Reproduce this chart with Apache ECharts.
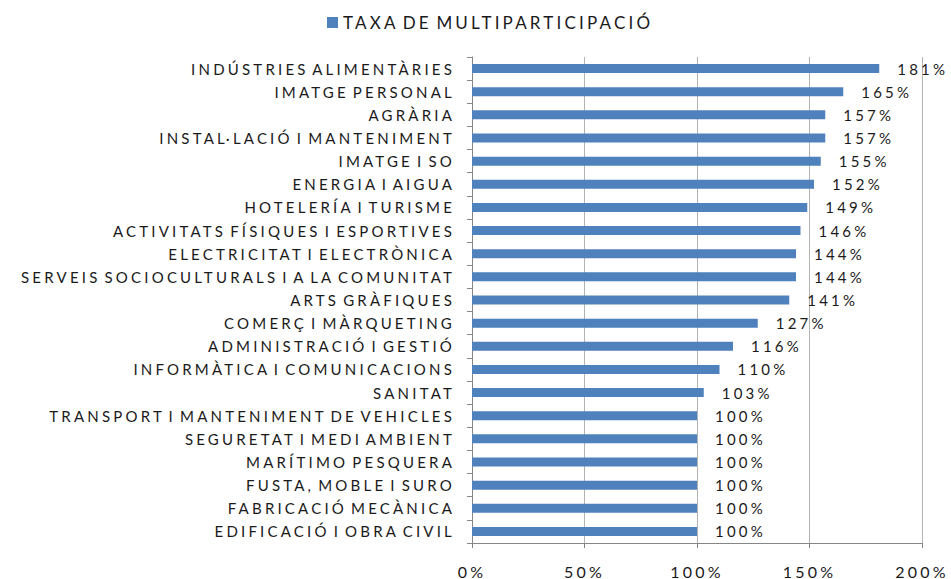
<!DOCTYPE html>
<html>
<head>
<meta charset="utf-8">
<script src="https://cdn.jsdelivr.net/npm/echarts@6/dist/echarts.min.js"></script>
<style>
  html, body { margin: 0; padding: 0; background: #fff; }
  #main { width: 951px; height: 579px; }
  /* the original uses wide tracking with tight word gaps */
  #main svg text { letter-spacing: 3.2px; word-spacing: -3px; }
</style>
</head>
<body>
<div id="main"></div>
<script>
// families, top to bottom as in the chart
var families = [
  'INDÚSTRIES ALIMENTÀRIES', 'IMATGE PERSONAL', 'AGRÀRIA', 'INSTAL·LACIÓ I MANTENIMENT',
  'IMATGE I SO', 'ENERGIA I AIGUA', 'HOTELERÍA I TURISME', 'ACTIVITATS FÍSIQUES I ESPORTIVES',
  'ELECTRICITAT I ELECTRÒNICA', 'SERVEIS SOCIOCULTURALS I A LA COMUNITAT', 'ARTS GRÀFIQUES',
  'COMERÇ I MÀRQUETING', 'ADMINISTRACIÓ I GESTIÓ', 'INFORMÀTICA I COMUNICACIONS', 'SANITAT',
  'TRANSPORT I MANTENIMENT DE VEHICLES', 'SEGURETAT I MEDI AMBIENT', 'MARÍTIMO PESQUERA',
  'FUSTA, MOBLE I SURO', 'FABRICACIÓ MECÀNICA', 'EDIFICACIÓ I OBRA CIVIL'
];
// taxa de multiparticipació (%)
var taxa = [181, 165, 157, 157, 155, 152, 149, 146, 144, 144, 141, 127, 116, 110, 103, 100, 100, 100, 100, 100, 100];
var serieName = 'TAXA DE MULTIPARTICIPACIÓ';

var fontFam = 'Lato, "Open Sans", sans-serif';
var chart = echarts.init(document.getElementById('main'), null, { renderer: 'svg' });
chart.setOption({
  animation: false,
  legend: {
    data: [serieName],
    top: 9,
    left: 322,
    itemWidth: 11,
    itemHeight: 11,
    itemGap: 4,
    icon: 'rect',
    textStyle: { fontFamily: fontFam, fontSize: 17, color: '#1a1a1a' }
  },
  grid: { left: 472, right: 29, top: 57, bottom: 35, containLabel: false },
  xAxis: {
    type: 'value',
    min: 0,
    max: 200,
    interval: 50,
    axisLine: { show: true, lineStyle: { color: '#868686' } },
    axisTick: { show: true, length: 5, lineStyle: { color: '#868686' } },
    splitLine: { show: true, lineStyle: { color: '#b3b3b3', width: 1 } },
    axisLabel: {
      formatter: '{value}%',
      fontFamily: fontFam,
      fontSize: 16,
      color: '#1a1a1a',
      margin: 20
    }
  },
  yAxis: {
    type: 'category',
    data: families,
    inverse: true,
    axisLine: { show: true, lineStyle: { color: '#868686' } },
    axisTick: { show: true, length: 5, lineStyle: { color: '#868686' } },
    axisLabel: {
      fontFamily: fontFam,
      fontSize: 15,
      color: '#1a1a1a',
      margin: 17,
      interval: 0
    }
  },
  series: [{
    name: serieName,
    type: 'bar',
    data: taxa,
    barWidth: 9,
    itemStyle: { color: '#4F81BD' },
    label: {
      show: true,
      position: 'right',
      distance: 18,
      formatter: '{c}%',
      fontFamily: fontFam,
      fontSize: 15,
      color: '#1a1a1a'
    }
  }]
});
</script>
</body>
</html>
